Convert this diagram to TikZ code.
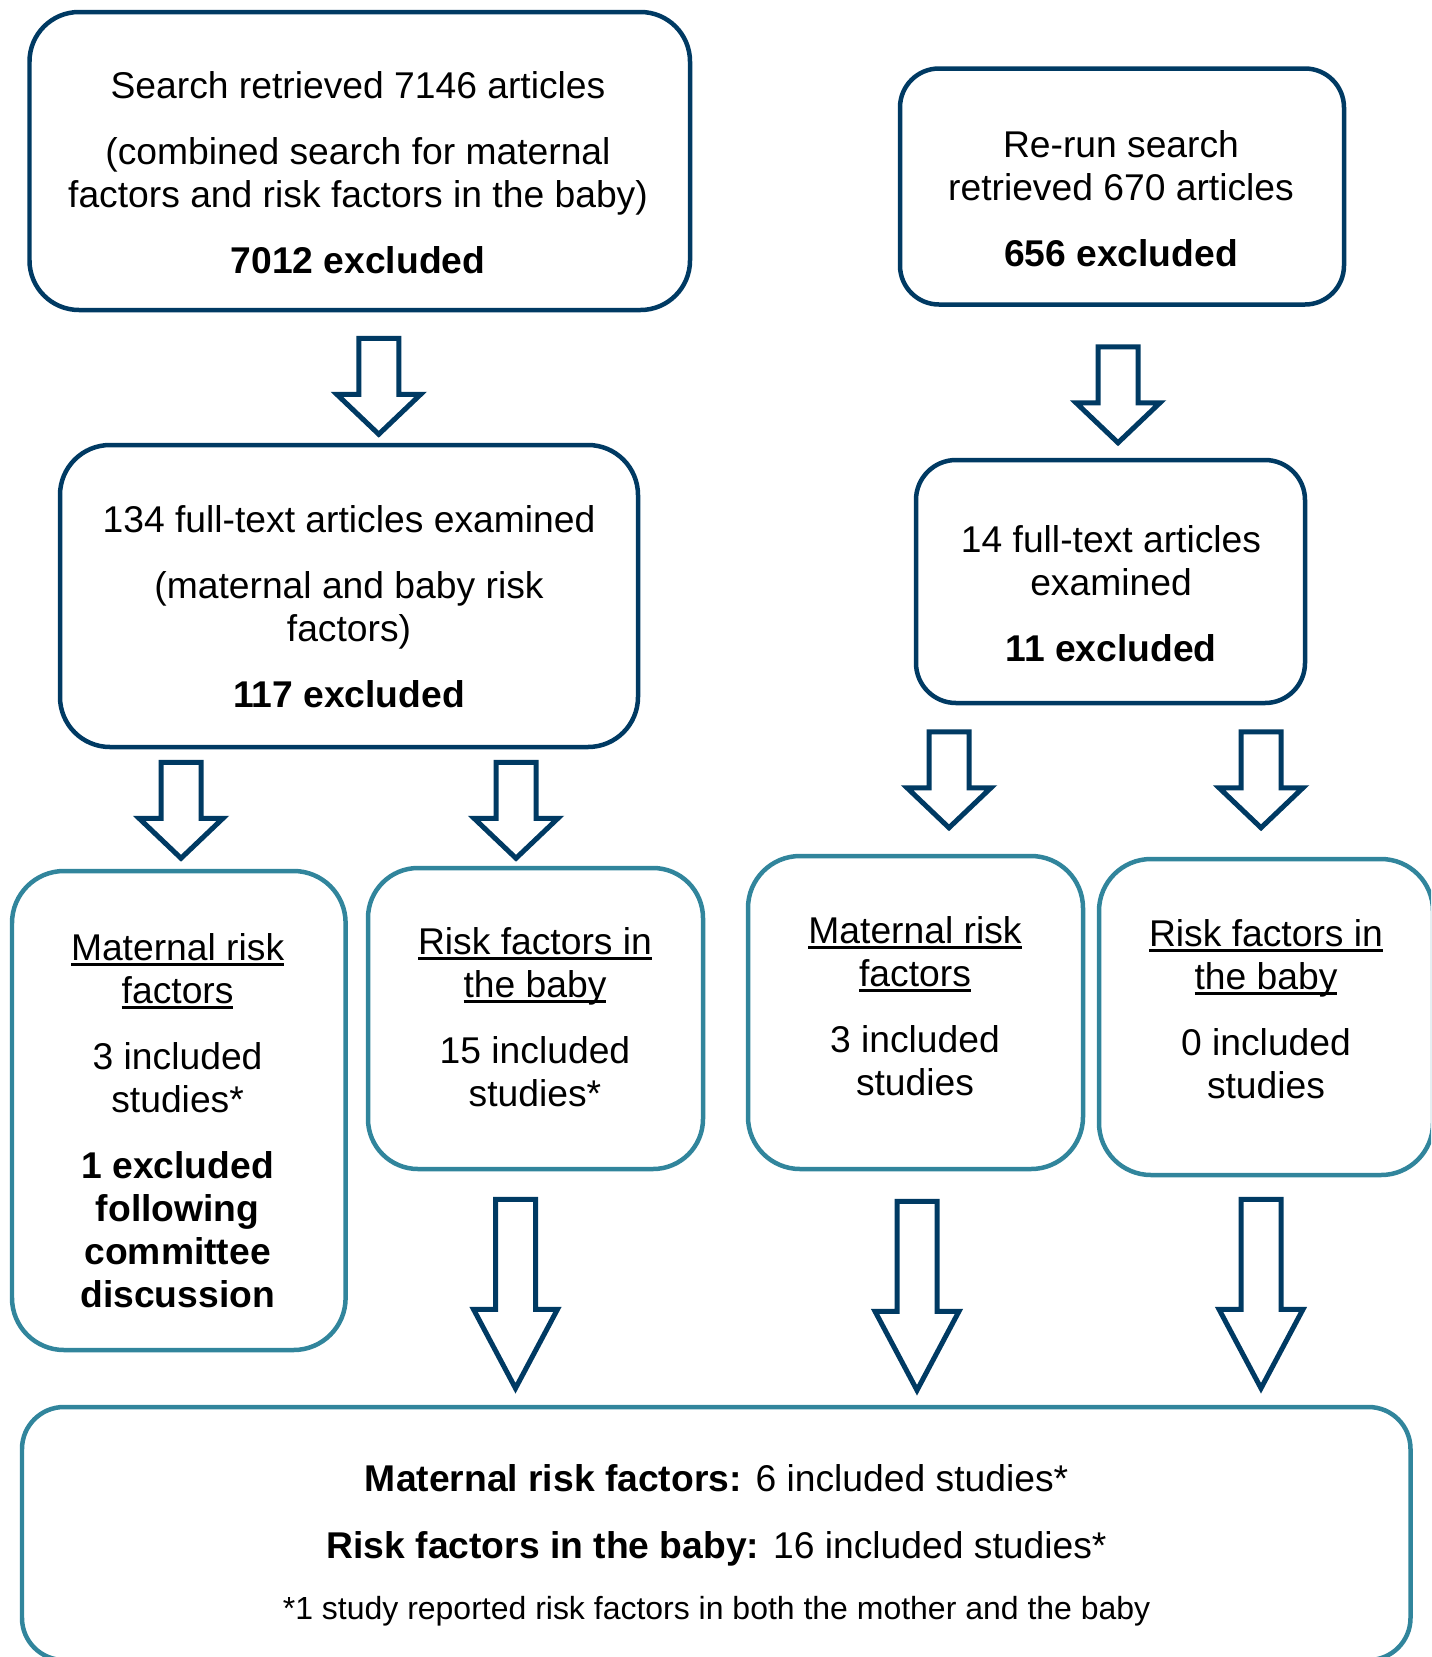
\documentclass[tikz,border=0pt]{standalone}
\usepackage{fontspec}
\setmainfont{Liberation Sans}
\usetikzlibrary{calc}

\definecolor{darknavy}{RGB}{0,58,99}
\definecolor{boxteal}{RGB}{49,133,156}
\newcommand{\boxfont}{\fontsize{21.2pt}{24.5pt}\selectfont}
\newcommand{\notefont}{\fontsize{18.2pt}{21pt}\selectfont}
\newsavebox{\ulinebox}
\newcommand{\uline}[1]{\sbox{\ulinebox}{#1}%
    \rlap{\rule[-3pt]{\wd\ulinebox}{1.6pt}}\usebox{\ulinebox}}

\begin{document}
\begin{tikzpicture}[x=0.02cm, y=-0.02cm,
    darkbox/.style={draw=darknavy, line width=0.09cm, inner sep=0pt},
    tealbox/.style={draw=boxteal, line width=0.09cm, inner sep=0pt},
    boxsize/.style 2 args={minimum width=#1*0.02cm, minimum height=#2*0.02cm},
    txt/.style={align=center, font=\boxfont, inner sep=0pt},
    arrowline/.style={draw=darknavy, line width=0.1cm},
    pics/fatarrow/.style 2 args={code={
        \draw[arrowline] (-20,0) -- (20,0) -- (20,#1-#2) -- (42,#1-#2)
            -- (0,#1) -- (-42,#1-#2) -- (-20,#1-#2) -- cycle;}}]
    \useasboundingbox (0,0) rectangle (1431,1657);
    \clip (0,0) rectangle (1431,1657);

    % first search
    \node[darkbox, boxsize={660.5}{298}, rounded corners=0.99cm] (search) at (359.75,161) {};
    \node[txt] (search-txt) at (358,173) {Search retrieved 7146 articles\\[13pt]
        (combined search for maternal\\factors and risk factors in the baby)\\[13pt]
        \textbf{7012 excluded}};
    % re-run search
    \node[darkbox, boxsize={444}{236}, rounded corners=0.78cm] (rerun) at (1122,186.5) {};
    \node[txt] (rerun-txt) at (1121,198.5) {Re-run search\\retrieved 670 articles\\[13pt]
        \textbf{656 excluded}};
    % full text
    \node[darkbox, boxsize={578}{302}, rounded corners=1cm] (fulltext) at (349,596) {};
    \node[txt] (fulltext-txt) at (349,606.5) {134 full-text articles examined\\[13pt]
        (maternal and baby risk\\factors)\\[13pt]\textbf{117 excluded}};
    \node[darkbox, boxsize={389}{243}, rounded corners=0.8cm] (rerunfull) at (1110.5,581.5) {};
    \node[txt] (rerunfull-txt) at (1111,593.5) {14 full-text articles\\examined\\[13pt]
        \textbf{11 excluded}};

    % split by risk factor
    \node[tealbox, boxsize={333.6}{479}, rounded corners=1.04cm] (matA) at (178.8,1110.5) {};
    \node[txt] (matA-txt) at (177.6,1120.5) {\uline{Maternal risk}\\\uline{factors}\\[13pt]
        3 included\\studies*\\[13pt]\textbf{1 excluded}\\\textbf{following}\\
        \textbf{committee}\\\textbf{discussion}};
    \node[tealbox, boxsize={335}{301}, rounded corners=1cm] (babyA) at (535.5,1018.5) {};
    \node[txt] (babyA-txt) at (535,1017.5) {\uline{Risk factors in}\\\uline{the baby}\\[13pt]
        15 included\\studies*};
    \node[tealbox, boxsize={335}{313}, rounded corners=1.04cm] (matB) at (915.5,1012.5) {};
    \node[txt] (matB-txt) at (915,1006) {\uline{Maternal risk}\\\uline{factors}\\[13pt]
        3 included\\studies};
    \node[tealbox, boxsize={334}{316}, rounded corners=1.04cm] (babyB) at (1266,1017) {};
    \node[txt] (babyB-txt) at (1266,1009) {\uline{Risk factors in}\\\uline{the baby}\\[13pt]
        0 included\\studies};

    % totals
    \node[tealbox, boxsize={1388.5}{253}, rounded corners=0.84cm] (total) at (716.25,1533.5) {};
    \node[txt] (total-txt) at (716.6,1515) {\textbf{Maternal risk factors:} 6 included studies*\\[13.5pt]
        \textbf{Risk factors in the baby:} 16 included studies*};
    \node[txt, font=\notefont] (total-note) at (716.6,1611.5)
        {*1 study reported risk factors in both the mother and the baby};

    % arrows
    \pic at ($(search.south)+(19,26)$) {fatarrow={96}{40}};
    \pic at ($(rerun.south)+(-4,40)$) {fatarrow={96}{40}};
    \pic at ($(fulltext.south)+(-168,13)$) {fatarrow={96}{40}};
    \pic at ($(fulltext.south)+(167,13)$) {fatarrow={96}{40}};
    \pic at ($(rerunfull.south)+(-161.5,26.5)$) {fatarrow={96}{40}};
    \pic at ($(rerunfull.south)+(150.5,26.5)$) {fatarrow={96}{40}};
    \pic at ($(babyA.south)+(-20,28)$) {fatarrow={189}{79}};
    \pic at ($(matB.south)+(1.5,30)$) {fatarrow={189}{79}};
    \pic at ($(babyB.south)+(-5,22)$) {fatarrow={189}{79}};
\end{tikzpicture}
\end{document}
